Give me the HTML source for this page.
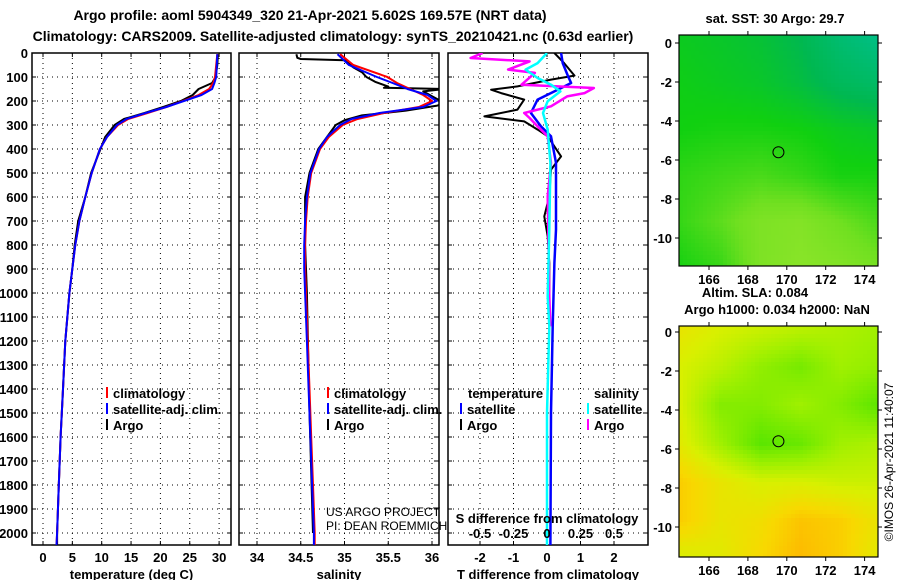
<!DOCTYPE html>
<html><head><meta charset="utf-8"><style>
body{margin:0;background:#fff;}
svg{display:block;font-family:"Liberation Sans",sans-serif;}
.b{font-weight:bold;font-size:13px;}
.t{font-weight:bold;font-size:14px;}
</style></head><body>
<svg id="s" width="900" height="580" viewBox="0 0 900 580">
<text class="t" x="310" y="20" text-anchor="middle">Argo profile: aoml 5904349_320 21-Apr-2021 5.602S 169.57E (NRT data)</text>
<text class="t" x="333" y="41" text-anchor="middle">Climatology: CARS2009. Satellite-adjusted climatology: synTS_20210421.nc (0.63d earlier)</text>
<text class="b" x="775" y="23" text-anchor="middle">sat. SST: 30 Argo: 29.7</text>
<text class="b" x="755" y="297" text-anchor="middle">Altim. SLA: 0.084</text>
<text class="b" x="777" y="314" text-anchor="middle">Argo h1000: 0.034 h2000: NaN</text>
<text x="893" y="462" font-size="12" text-anchor="middle" transform="rotate(-90 893 462)">©IMOS 26-Apr-2021 11:40:07</text>
<g id="g"></g>
</svg>
<script>
// ---- profile data ----
const depthClim=[5,50,100,125,150,175,200,225,250,275,300,350,400,500,600,700,800,900,1000,1200,1400,1600,1800,2000,2050];
const tempClim=[29.7,29.5,29.3,29.0,28.3,26.5,23.8,21,17.8,14.5,12.8,10.9,9.7,8.3,7.2,6.2,5.5,5.0,4.5,3.8,3.4,3.0,2.7,2.4,2.3];
const tempSat=[29.7,29.6,29.5,29.2,28.8,27,24,21,17.5,14.2,12.6,10.9,9.7,8.3,7.2,6.2,5.5,5.0,4.5,3.8,3.4,3.0,2.7,2.4,2.3];
const tempArgo=[29.8,29.7,29.4,28.8,26.5,25.5,23.5,20.5,17.3,13.8,12.2,10.6,9.8,8.2,7.2,6.0,5.4,5.0,4.5,3.8,3.4,3.0,2.7,2.4,2.4];
const salClim=[34.95,35.1,35.49,35.6,35.75,35.9,36.0,35.85,35.45,35.15,34.98,34.82,34.72,34.62,34.58,34.56,34.55,34.55,34.56,34.58,34.6,34.62,34.64,34.66,34.66];
const salSat=[34.92,35.05,35.37,35.55,35.72,35.95,36.05,35.9,35.4,35.08,34.95,34.8,34.71,34.61,34.57,34.55,34.54,34.54,34.55,34.57,34.59,34.61,34.63,34.65,34.65];
const salArgoDepth=[5,20,25,30,45,60,80,100,120,140,145,150,160,180,200,210,220,240,260,280,300,350,400,500,600,800,1000,1500,2000];
const salArgo=[34.45,34.46,34.5,35.0,35.05,35.1,35.2,35.25,35.35,35.5,35.45,36.15,35.9,36.0,36.1,36.15,36.05,35.7,35.2,35.0,34.9,34.8,34.7,34.6,34.55,34.55,34.57,34.6,34.64];
const dTArgoDepth=[0,42,94,111,139,153,167,194,236,264,285,319,347,389,431,486,597,681,764,875,1014,1139];
const dTArgo=[0.22,0.51,0.82,0.12,-0.88,-1.67,-1.37,-0.68,-0.88,-1.87,-0.68,-0.28,0.02,0.22,0.42,0.12,0.07,-0.08,0.02,0.07,0.07,0.07];
const dTSatDepth=[0,42,94,125,153,194,250,306,347,458,736,875,1139,1500,2050];
const dTSat=[0.42,0.47,0.62,0.72,0.32,-0.28,-0.48,-0.18,0.12,0.27,0.27,0.22,0.17,0.12,0.1];
const dSArgoDepth=[0,21,35,69,83,132,146,167,181,222,250,271,306,347,458,597,736,1014,1139];
const dSArgo=[-0.48,-0.57,-0.13,-0.29,-0.09,-0.19,0.35,0.28,0.15,0.03,-0.17,-0.13,-0.07,0.005,0.03,0.005,0.01,0.017,0.025];
const dSSatDepth=[0,42,69,104,132,160,201,250,319,458,736,1014,1139,1500,2050];
const dSSat=[0,-0.07,-0.16,-0.07,0.03,0.1,0.005,-0.03,0.005,0.025,0.017,0.005,0.017,0,0];
const depthTicks=[0,100,200,300,400,500,600,700,800,900,1000,1100,1200,1300,1400,1500,1600,1700,1800,1900,2000];
const tempTicks=[0,5,10,15,20,25,30];
const salTicks=[34,34.5,35,35.5,36];
const salTickLabels=["34","34.5","35","35.5","36"];
const dTTicks=[-2,-1,0,1,2];
const dSTicks=[-0.5,-0.25,0,0.25,0.5];
const dSTickLabels=["-0.5","-0.25","0","0.25","0.5"];
// ---- map data (coarse grids, rows from lat 0.4 to -11.5, cols lon 164.5..174.75) ----
const sstGrid=[[0.45,0.42,0.38,0.3,0.15,0.05],[0.48,0.45,0.42,0.35,0.25,0.2],[0.5,0.52,0.52,0.5,0.45,0.42],[0.58,0.62,0.65,0.6,0.52,0.52],[0.6,0.7,0.82,0.85,0.75,0.65],[0.52,0.6,0.82,0.88,0.85,0.78]];
const slaGrid=[[0.7,0.6,0.55,0.5,0.45,0.4],[0.6,0.5,0.35,0.25,0.4,0.35],[0.6,0.3,0.3,0.4,0.3,0.15],[0.65,0.4,0.15,0.2,0.4,0.45],[0.85,0.7,0.6,0.6,0.55,0.55],[0.85,0.7,0.75,0.9,0.85,0.7],[0.6,0.65,0.8,0.95,0.85,0.65]];
const lonTicks=[166,168,170,172,174];
const latTicks=[0,-2,-4,-6,-8,-10];
const argoLon=169.57, argoLat=-5.6;

const NS="http://www.w3.org/2000/svg";
const G=document.getElementById('g');
function mk(tag,attrs,parent){const e=document.createElementNS(NS,tag);for(const k in attrs)e.setAttribute(k,attrs[k]);(parent||G).appendChild(e);return e;}
const yTop=53,yBot=545;
function yD(d){return yTop+d*0.24;}

function panel(x0,x1,xs,xticks,xlabels,title,name){
  const grp=mk('g',{});
  
  
  xticks.forEach(v=>{const x=xs(v);const l=mk('line',{x1:x,x2:x,y1:yTop,y2:yBot,stroke:'#000','stroke-width':1,'stroke-dasharray':'1 4'},grp);
    mk('line',{x1:x,x2:x,y1:yTop,y2:yTop+4,stroke:'#000'},grp);mk('line',{x1:x,x2:x,y1:yBot-4,y2:yBot,stroke:'#000'},grp);});
  depthTicks.forEach(d=>{const y=yD(d);const l=mk('line',{x1:x0,x2:x1,y1:y,y2:y,stroke:'#000','stroke-width':1,'stroke-dasharray':'1 4'},grp);
    mk('line',{x1:x0,x2:x0+4,y1:y,y2:y,stroke:'#000'},grp);mk('line',{x1:x1-4,x2:x1,y1:y,y2:y,stroke:'#000'},grp);});
  const fr=mk('rect',{x:x0,y:yTop,width:x1-x0,height:yBot-yTop,fill:'none',stroke:'#000','stroke-width':1.5},grp);
  
  xticks.forEach((v,i)=>{const t=mk('text',{x:xs(v),y:562,'text-anchor':'middle',class:'b'},grp);t.textContent=xlabels[i];
    });
  const tt=mk('text',{x:(x0+x1)/2,y:579,'text-anchor':'middle',class:'b'},grp);tt.textContent=title;
  
  return grp;
}
function line(xs,depths,vals,color,name,w,parent){
  const pts=depths.map((d,i)=>xs(vals[i]).toFixed(1)+','+yD(d).toFixed(1)).join(' ');
  const p=mk('polyline',{points:pts,fill:'none',stroke:color,'stroke-width':w||2,'stroke-linejoin':'round'},parent);
  
}
function clipFor(id,x0,x1){const c=mk('clipPath',{id:id});mk('rect',{x:x0,y:yTop,width:x1-x0,height:yBot-yTop},c);}
function legend(x,y,color,text,name){
  const m=mk('line',{x1:x,x2:x,y1:y-11,y2:y,stroke:color,'stroke-width':2});
  
  if(text){const t=mk('text',{x:x+6,y:y,class:'b'});t.textContent=text;}
}

depthTicks.forEach(d=>{const t=mk('text',{x:28,y:yD(d)+5,'text-anchor':'end',class:'b'});t.textContent=d;
  });

// Panel 1 temperature
const xT=v=>43+v*5.87;
panel(32,231,xT,tempTicks,tempTicks.map(String),'temperature (deg C)','temperature-panel');
clipFor('c1',32,231);
const g1=mk('g',{'clip-path':'url(#c1)'});
line(xT,depthClim,tempArgo,'#000','temp-argo-line',2,g1);
line(xT,depthClim,tempClim,'#f00','temp-clim-line',2,g1);
line(xT,depthClim,tempSat,'#00f','temp-sat-line',2,g1);
legend(107,398,'#f00','climatology','legend-climatology');
legend(107,414,'#00f','satellite-adj. clim.','legend-satellite');
legend(107,430,'#000','Argo','legend-argo');

// Panel 2 salinity
const xS=v=>257+(v-34)*87.5;
panel(239,439,xS,salTicks,salTickLabels,'salinity','salinity-panel');
clipFor('c2',239,439);
const g2=mk('g',{'clip-path':'url(#c2)'});
line(xS,salArgoDepth,salArgo,'#000','sal-argo-line',2,g2);
line(xS,depthClim,salClim,'#f00','sal-clim-line',2,g2);
line(xS,depthClim,salSat,'#00f','sal-sat-line',2,g2);
legend(328,398,'#f00','climatology','legend-climatology-2');
legend(328,414,'#00f','satellite-adj. clim.','legend-satellite-2');
legend(328,430,'#000','Argo','legend-argo-2');
[['US ARGO PROJECT',516,'project-credit'],['PI: DEAN ROEMMICH',530,'pi-credit']].forEach(a=>{const t=mk('text',{x:326,y:a[1],'font-size':12});t.textContent=a[0];});

// Panel 3 differences
const xDT=v=>547+v*33.5;
const xDS=v=>547+v*134;
panel(448,648,xDT,dTTicks,dTTicks.map(String),'T difference from climatology','difference-panel');
clipFor('c3',448,648);
const g3=mk('g',{'clip-path':'url(#c3)'});
line(xDT,dTArgoDepth,dTArgo,'#000','tdiff-argo-line',2,g3);
line(xDT,dTSatDepth,dTSat,'#00f','tdiff-sat-line',2.5,g3);
line(xDS,dSArgoDepth,dSArgo,'#f0f','sdiff-argo-line',2.5,g3);
line(xDS,dSSatDepth,dSSat,'#0ff','sdiff-sat-line',2.5,g3);
{const t=mk('text',{x:468,y:398,class:'b'});t.textContent='temperature';}
{const t=mk('text',{x:594,y:398,class:'b'});t.textContent='salinity';}
legend(461,414,'#00f','satellite','legend-t-satellite');
legend(461,430,'#000','Argo','legend-t-argo');
legend(588,414,'#0ff','satellite','legend-s-satellite');
legend(588,430,'#f0f','Argo','legend-s-argo');
{const t=mk('text',{x:547,y:523,'text-anchor':'middle',class:'b'});t.textContent='S difference from climatology';}
dSTicks.forEach((v,i)=>{const t=mk('text',{x:xDS(v),y:538,'text-anchor':'middle',class:'b'});t.textContent=dSTickLabels[i];});

// ---- maps ----
function lerpColor(stops,v){v=Math.max(0,Math.min(1,v));for(let i=1;i<stops.length;i++){if(v<=stops[i][0]){const a=stops[i-1],b=stops[i];const f=(v-a[0])/(b[0]-a[0]);
  const c=[0,1,2].map(k=>Math.round(a[1][k]+(b[1][k]-a[1][k])*f));return 'rgb('+c.join(',')+')';}}return 'rgb('+stops[stops.length-1][1].join(',')+')';}
function sample(grid,fx,fy){const R=grid.length-1,C=grid[0].length-1;const x=fx*C,y=fy*R;const i=Math.min(Math.floor(y),R-1),j=Math.min(Math.floor(x),C-1);const u=x-j,w=y-i;
  return grid[i][j]*(1-u)*(1-w)+grid[i][j+1]*u*(1-w)+grid[i+1][j]*(1-u)*w+grid[i+1][j+1]*u*w;}
function drawMap(x0,y0,x1,y1,lat0y,grid,stops,name){
  const mg=mk('g',{});
  const cs=4;
  for(let y=y0;y<y1;y+=cs)for(let x=x0;x<x1;x+=cs){
    const v=sample(grid,(x-x0)/(x1-x0),(y-y0)/(y1-y0));
    mk('rect',{x:x,y:y,width:Math.min(cs,x1-x)+0.3,height:Math.min(cs,y1-y)+0.3,fill:lerpColor(stops,v)},mg);}
  const lonX=l=>709+(l-166)*19.45;
  const fr=mk('rect',{x:x0,y:y0,width:x1-x0,height:y1-y0,fill:'none',stroke:'#000','stroke-width':1.2},mg);
  
  lonTicks.forEach(l=>{const x=lonX(l);mk('line',{x1:x,x2:x,y1:y0-4,y2:y0,stroke:'#000'},mg);mk('line',{x1:x,x2:x,y1:y1,y2:y1+4,stroke:'#000'},mg);
    const t=mk('text',{x:x,y:y1+18,'text-anchor':'middle',class:'b'},mg);t.textContent=l;});
  latTicks.forEach(l=>{const yy=lat0y+(-l)*19.5;mk('line',{x1:x0-4,x2:x0,y1:yy,y2:yy,stroke:'#000'},mg);mk('line',{x1:x1,x2:x1+4,y1:yy,y2:yy,stroke:'#000'},mg);
    const t=mk('text',{x:x0-7,y:yy+5,'text-anchor':'end',class:'b'},mg);t.textContent=l;});
  const cx=lonX(argoLon),cy=lat0y+(-argoLat)*19.5;
  const c=mk('circle',{cx:cx,cy:cy,r:5.5,fill:'none',stroke:'#000','stroke-width':1},mg);
  
}
drawMap(679,35,878,266,43,sstGrid,[[0,[0,192,144]],[0.3,[0,184,80]],[0.5,[16,208,16]],[0.75,[112,224,32]],[1,[160,232,48]]],'sst-map');
drawMap(679,326,878,557,332,slaGrid,[[0,[48,224,0]],[0.4,[160,240,0]],[0.6,[216,240,0]],[0.8,[248,216,0]],[1,[255,176,0]]],'sla-map');
</script>
</body></html>
